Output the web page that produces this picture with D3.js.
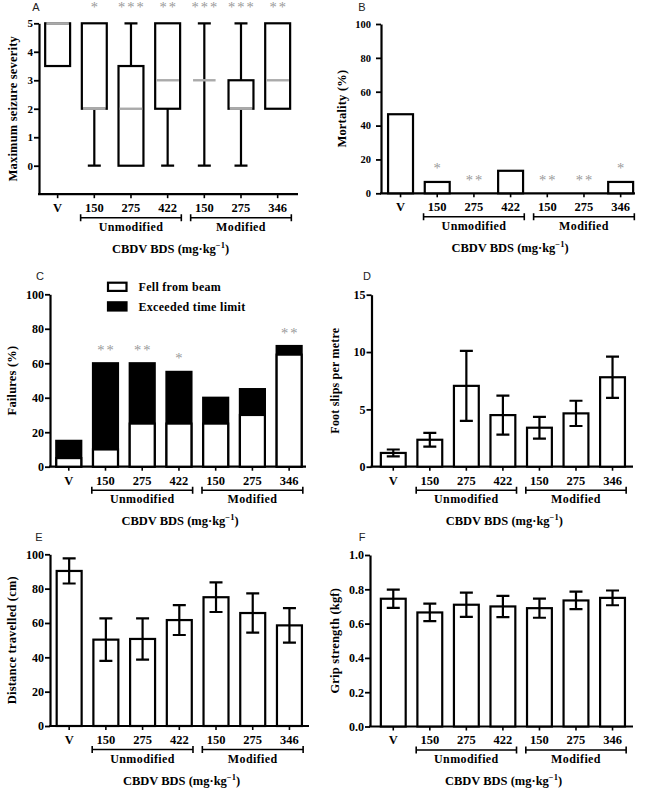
<!DOCTYPE html>
<html><head><meta charset="utf-8">
<script src="https://cdn.jsdelivr.net/npm/d3@7"></script>
<style>body{margin:0;background:#fff} svg{display:block} .stars{opacity:0.99}</style>
</head><body><svg id="c" width="645" height="792"></svg>
<script>
// ---------- data ----------
const tickLabels = ["V","150","275","422","150","275","346"];
const groupLabels = ["Unmodified","Modified"];
const groupStart = [1,4];
const groupEnd = [3,6];
const xTitleMain = "CBDV BDS (mg·kg";
const xTitleSup = "−1";
const xTitleEnd = ")";
// A: maximum seizure severity (box plots)
const boxMin    = [3.5,0,0,0,0,0,2];
const boxQ1     = [3.5,2,0,2,3,2,2];
const boxMedian = [5,2,2,3,3,2,3];
const boxQ3     = [5,5,3.5,5,3,3,5];
const boxMax    = [5,5,5,5,5,5,5];
const starsA = ["","*","***","**","***","***","**"];
const ticksA = [0,1,2,3,4,5];
// B: mortality
const mortality = [46.7,6.7,0,13.3,0,0,6.7];
const starsB = ["","*","**","","**","**","*"];
const ticksB = [0,20,40,60,80,100];
// C: failures
const legendC = ["Fell from beam","Exceeded time limit"];
const fellFromBeam = [5,10,25,25,25,30,65];
const exceededTime = [10,50,35,30,15,15,5];
const starsC = ["","**","**","*","","","**"];
const ticksC = [0,20,40,60,80,100];
// D: foot slips
const footSlips    = [1.2,2.35,7.05,4.5,3.4,4.65,7.8];
const footSlipsErr = [0.3,0.6,3.05,1.7,0.95,1.1,1.8];
const ticksD = [0,5,10,15];
// E: distance travelled
const distance    = [90.3,50.3,50.7,61.7,75,65.8,58.6];
const distanceErr = [7.3,12.4,12,8.7,8.6,11.4,10];
const ticksE = [0,20,40,60,80,100];
// F: grip strength
const grip    = [0.745,0.665,0.71,0.70,0.69,0.735,0.75];
const gripErr = [0.053,0.051,0.071,0.062,0.056,0.051,0.043];
const ticksF = [0,0.2,0.4,0.6,0.8,1.0];

// ---------- drawing ----------
const svg = d3.select("#c");
const SERIF = "'Liberation Serif','Times New Roman',serif";
const SANS = "'Liberation Sans',Arial,sans-serif";
const SW = 2.2;
const idx = d3.range(tickLabels.length);

function panel(cfg){
  const g = svg.append("g");
  const x = d3.scaleBand().domain(idx).range(cfg.band).paddingInner(0.32).paddingOuter(0.16);
  const y = d3.scaleLinear().domain(cfg.yDomain).range(cfg.yRange);
  const xAxisY = cfg.yRange[0];
  const ya = g.append("g").attr("transform",`translate(${cfg.axisX},0)`)
    .call(d3.axisLeft(y).tickValues(cfg.ticks).tickSize(5).tickSizeOuter(0).tickPadding(cfg.tickPad||1).tickFormat(cfg.fmt||d3.format("d")));
  ya.select(".domain").attr("stroke-width",SW).attr("stroke","#000");
  ya.selectAll(".tick line").attr("stroke-width",1.8);
  ya.selectAll(".tick text").attr("font-family",SERIF).attr("font-weight","bold").attr("font-size",cfg.tickFont||12).attr("fill","#000");
  const xa = g.append("g").attr("transform",`translate(0,${xAxisY})`)
    .call(d3.axisBottom(x).tickSize(4).tickSizeOuter(0).tickPadding(5).tickFormat(i=>tickLabels[i]));
  xa.select(".domain").remove();
  xa.selectAll(".tick line").attr("stroke-width",1.6);
  xa.selectAll(".tick text").attr("font-family",SERIF).attr("font-weight","bold").attr("font-size",12.5).attr("fill","#000");
  g.append("line").attr("x1",cfg.axisX-1).attr("x2",cfg.axisEnd).attr("y1",xAxisY).attr("y2",xAxisY)
    .attr("stroke","#000").attr("stroke-width",SW);
  const bw = x.bandwidth();
  groupLabels.forEach((lab,k)=>{
    const x1 = x(groupStart[k]) - 1.2, x2 = x(groupEnd[k]) + bw + 1.2, by = xAxisY + 23.5;
    g.append("path").attr("d",`M${x1},${by-3.5}V${by+3.5}M${x1},${by}H${x2}M${x2},${by-3.5}V${by+3.5}`)
      .attr("stroke","#000").attr("stroke-width",1.6).attr("fill","none");
    g.append("text").attr("x",(x1+x2)/2).attr("y",xAxisY+36.5).attr("text-anchor","middle")
      .attr("font-family",SERIF).attr("font-weight","bold").attr("font-size",12).attr("letter-spacing",0.4).text(lab);
  });
  const t = g.append("text").attr("x",(cfg.axisX+cfg.axisEnd)/2+2).attr("y",xAxisY+58.5).attr("text-anchor","middle")
    .attr("font-family",SERIF).attr("font-weight","bold").attr("font-size",12.5);
  t.append("tspan").text(xTitleMain);
  t.append("tspan").attr("dy",-5).attr("font-size",8.5).text(xTitleSup);
  t.append("tspan").attr("dy",5).text(xTitleEnd);
  g.append("text").attr("transform",`translate(${cfg.yTitleX},${(cfg.yRange[0]+cfg.yRange[1])/2}) rotate(-90)`)
    .attr("text-anchor","middle").attr("dy","0.35em").attr("font-family",SERIF).attr("font-weight","bold")
    .attr("font-size",cfg.yTitleFont||12.5).attr("letter-spacing",0.2).text(cfg.yTitle);
  g.append("text").attr("x",cfg.letterX).attr("y",cfg.letterY).attr("text-anchor","middle")
    .attr("font-family",SANS).attr("font-size",11).attr("fill","#222").text(cfg.letter);
  return {g,x,y,bw,xAxisY};
}

function stars(p, arr, yOf){
  p.g.append("g").attr("class","stars").selectAll(null).data(idx.filter(i=>arr[i])).join("text")
    .attr("x",i=>p.x(i)+p.bw/2+1).attr("y",i=>yOf(i)).attr("text-anchor","middle")
    .attr("font-family",SERIF).attr("font-size",14.5).attr("letter-spacing",2).attr("fill","#999999")
    .text(i=>arr[i]);
}

function barsWithErr(p, vals, errs){
  p.g.selectAll(null).data(idx).join("rect")
    .attr("x",i=>p.x(i)).attr("y",i=>p.y(vals[i])).attr("width",p.bw).attr("height",i=>p.y(0)-p.y(vals[i]))
    .attr("fill","#fff").attr("stroke","#000").attr("stroke-width",SW);
  p.g.selectAll(null).data(idx).join("path")
    .attr("d",i=>{const cx=p.x(i)+p.bw/2, hi=p.y(vals[i]+errs[i]), lo=p.y(vals[i]-errs[i]);
      return `M${cx},${hi}V${lo}M${cx-6.5},${hi}H${cx+6.5}M${cx-6.5},${lo}H${cx+6.5}`;})
    .attr("stroke","#000").attr("stroke-width",SW).attr("fill","none");
}

// ---- A ----
const pA = panel({letter:"A",letterX:36,letterY:11,axisX:39,axisEnd:298,band:[39.3,296],
  yDomain:[-1,5],yRange:[194.2,23.3],ticks:ticksA,tickFont:11,yTitle:"Maximum seizure severity",yTitleX:13});
{
  const p=pA;
  p.g.selectAll(null).data(idx).join("path")
    .attr("d",i=>{const cx=p.x(i)+p.bw/2; let d="";
      if(boxMax[i]>boxQ3[i]) d+=`M${cx},${p.y(boxQ3[i])}V${p.y(boxMax[i])}M${cx-6.5},${p.y(boxMax[i])}H${cx+6.5}`;
      if(boxMin[i]<boxQ1[i]) d+=`M${cx},${p.y(boxQ1[i])}V${p.y(boxMin[i])}M${cx-6.5},${p.y(boxMin[i])}H${cx+6.5}`;
      return d||"M0,0";})
    .attr("stroke","#000").attr("stroke-width",SW).attr("fill","none");
  p.g.selectAll(null).data(idx).join("rect")
    .attr("x",i=>p.x(i)).attr("y",i=>p.y(boxQ3[i])).attr("width",p.bw).attr("height",i=>p.y(boxQ1[i])-p.y(boxQ3[i]))
    .attr("fill","#fff").attr("stroke","#000").attr("stroke-width",SW);
  p.g.selectAll(null).data(idx).join("line")
    .attr("x1",i=>p.x(i)+1.2).attr("x2",i=>p.x(i)+p.bw-1.2).attr("y1",i=>p.y(boxMedian[i])).attr("y2",i=>p.y(boxMedian[i]))
    .attr("stroke","#aaaaaa").attr("stroke-width",2.4);
  stars(p, starsA, ()=>12);
}

// ---- B ----
const pB = panel({letter:"B",letterX:362,letterY:11,axisX:381,axisEnd:635,band:[382.2,639],
  yDomain:[0,100],yRange:[193.3,24],ticks:ticksB,tickFont:10.5,tickPad:5,yTitle:"Mortality (%)",yTitleX:342});
{
  const p=pB;
  p.g.selectAll(null).data(idx.filter(i=>mortality[i]>0)).join("rect")
    .attr("x",i=>p.x(i)).attr("y",i=>p.y(mortality[i])).attr("width",p.bw).attr("height",i=>p.y(0)-p.y(mortality[i]))
    .attr("fill","#fff").attr("stroke","#000").attr("stroke-width",SW);
  stars(p, starsB, i=>p.y(mortality[i])-8.5);
}

// ---- C ----
const pC = panel({letter:"C",letterX:40,letterY:280,axisX:50,axisEnd:306,band:[50.4,307.5],
  yDomain:[0,100],yRange:[466.7,294.3],ticks:ticksC,tickFont:12,yTitle:"Failures (%)",yTitleX:12});
{
  const p=pC;
  p.g.selectAll(null).data(idx).join("rect")
    .attr("x",i=>p.x(i)).attr("y",i=>p.y(fellFromBeam[i]+exceededTime[i])).attr("width",p.bw)
    .attr("height",i=>p.y(0)-p.y(fellFromBeam[i]+exceededTime[i]))
    .attr("fill","#000").attr("stroke","#000").attr("stroke-width",SW);
  p.g.selectAll(null).data(idx).join("rect")
    .attr("x",i=>p.x(i)).attr("y",i=>p.y(fellFromBeam[i])).attr("width",p.bw)
    .attr("height",i=>p.y(0)-p.y(fellFromBeam[i]))
    .attr("fill","#fff").attr("stroke","#000").attr("stroke-width",SW);
  stars(p, starsC, i=>p.y(fellFromBeam[i]+exceededTime[i])-8.5);
  const fills=["#fff","#000"], ly=[282.7,302.3];
  legendC.forEach((lab,k)=>{
    p.g.append("rect").attr("x",108).attr("y",ly[k]).attr("width",18.5).attr("height",8.2)
      .attr("fill",fills[k]).attr("stroke","#000").attr("stroke-width",SW);
    p.g.append("text").attr("x",138.5).attr("y",ly[k]+8.3).attr("font-family",SERIF).attr("font-weight","bold")
      .attr("font-size",12).attr("letter-spacing",0.3).text(lab);
  });
}

// ---- D ----
const pD = panel({letter:"D",letterX:367,letterY:280,axisX:371.5,axisEnd:633,band:[375,630.8],
  yDomain:[0,15],yRange:[466.7,294.7],ticks:ticksD,tickFont:12,yTitle:"Foot slips per metre",yTitleX:335,yTitleFont:12});
barsWithErr(pD, footSlips, footSlipsErr);

// ---- E ----
const pE = panel({letter:"E",letterX:39,letterY:541,axisX:50,axisEnd:309,band:[50.8,307.8],
  yDomain:[0,100],yRange:[726,554.3],ticks:ticksE,tickFont:12,yTitle:"Distance travelled (cm)",yTitleX:12});
barsWithErr(pE, distance, distanceErr);

// ---- F ----
const pF = panel({letter:"F",letterX:362,letterY:541,axisX:370,axisEnd:633,band:[375,630.8],
  yDomain:[0,1],yRange:[726.5,555],ticks:ticksF,tickFont:12,fmt:d3.format(".1f"),yTitle:"Grip strength (kgf)",yTitleX:335});
barsWithErr(pF, grip, gripErr);
</script>
</body></html>
